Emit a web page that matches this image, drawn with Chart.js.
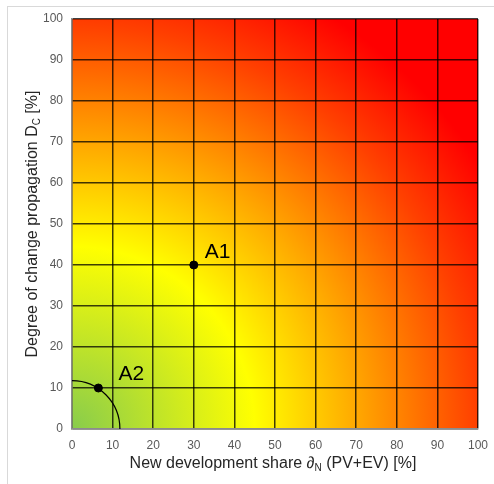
<!DOCTYPE html>
<html lang="en">
<head>
    <meta charset="UTF-8">
    <title>Change propagation</title>
    <script src="https://cdn.jsdelivr.net/npm/chart.js"></script>
    <style>
        html, body { margin: 0; padding: 0; background: #fff; }
        .frame {
            position: absolute;
            left: 7px;
            top: 6px;
            width: 487px;
            height: 478px;
            border-top: 1px solid #d9d9d9;
            border-left: 1px solid #d9d9d9;
        }
        .chart-box {
            position: absolute;
            left: 0;
            top: 0;
            width: 494px;
            height: 484px;
        }
    </style>
</head>
<body>
    <div class="frame"></div>
    <div class="chart-box">
        <canvas id="propChart"></canvas>
    </div>

    <script>
        // point labels and coordinates (x = new development share, y = degree of change propagation)
        const pointLabels = ['A1', 'A2'];
        const shareValues = [30, 6.5];
        const propagationValues = [40, 10];
        const xTicks = [0, 10, 20, 30, 40, 50, 60, 70, 80, 90, 100];
        const yTicks = [0, 10, 20, 30, 40, 50, 60, 70, 80, 90, 100];
        const arcRadius = 11.8; // quarter circle around the origin, in axis units

        const font = '"Liberation Sans", Arial, sans-serif';
        // label offsets from their point, in pixels
        const labelOffsets = [[11, -7], [20, -8]];

        // background: radial colour field from the origin
        const backgroundPlugin = {
            id: 'bgField',
            beforeDraw(chart) {
                const { ctx, chartArea, scales } = chart;
                const x0 = scales.x.getPixelForValue(0);
                const y0 = scales.y.getPixelForValue(0);
                const r = scales.x.getPixelForValue(120) - x0;
                const g = ctx.createRadialGradient(x0, y0, 0, x0, y0, r);
                g.addColorStop(0, '#88cc4c');
                g.addColorStop(0.375, '#ffff00');
                g.addColorStop(0.58, '#ffaa00');
                g.addColorStop(0.83, '#ff4000');
                g.addColorStop(1, '#ff0000');
                ctx.save();
                ctx.fillStyle = g;
                ctx.fillRect(chartArea.left, chartArea.top, chartArea.right - chartArea.left, chartArea.bottom - chartArea.top);
                ctx.restore();
            }
        };

        // arc, point labels and axis titles with subscripts
        const overlayPlugin = {
            id: 'overlay',
            beforeDatasetsDraw(chart) {
                const { ctx, chartArea, scales } = chart;
                const x0 = scales.x.getPixelForValue(0);
                const y0 = scales.y.getPixelForValue(0);
                const rx = scales.x.getPixelForValue(arcRadius) - x0;
                const ry = y0 - scales.y.getPixelForValue(arcRadius);
                ctx.save();
                ctx.beginPath();
                ctx.rect(chartArea.left, chartArea.top, chartArea.right - chartArea.left, chartArea.bottom - chartArea.top + 1);
                ctx.clip();
                ctx.beginPath();
                ctx.ellipse(x0, y0, rx, ry, 0, -Math.PI / 2, 0);
                ctx.strokeStyle = '#000';
                ctx.lineWidth = 1.2;
                ctx.stroke();
                ctx.restore();
            },
            afterDatasetsDraw(chart) {
                const { ctx } = chart;
                const meta = chart.getDatasetMeta(0);
                ctx.save();
                ctx.fillStyle = '#000';
                ctx.font = '21px ' + font;
                ctx.textBaseline = 'alphabetic';
                meta.data.forEach((pt, i) => {
                    ctx.fillText(pointLabels[i], pt.x + labelOffsets[i][0], pt.y + labelOffsets[i][1]);
                });
                ctx.restore();
            },
            afterDraw(chart) {
                const { ctx, chartArea } = chart;
                ctx.save();
                ctx.fillStyle = '#262626';
                ctx.textBaseline = 'alphabetic';

                // x title
                const xParts = [
                    ['New development share ', '16px ' + font, 0],
                    ['\u2202', 'italic 16px ' + font, 0],
                    ['N', '10px ' + font, 3],
                    [' (PV+EV) [%]', '16px ' + font, 0]
                ];
                drawParts(ctx, xParts, (chartArea.left + chartArea.right) / 2 - 2, 468);

                // y title, rotated
                ctx.translate(37, (chartArea.top + chartArea.bottom) / 2);
                ctx.rotate(-Math.PI / 2);
                const yParts = [
                    ['Degree of change propagation D', '16px ' + font, 0],
                    ['C', '10px ' + font, 3],
                    [' [%]', '16px ' + font, 0]
                ];
                drawParts(ctx, yParts, 0, 0);
                ctx.restore();
            }
        };

        function drawParts(ctx, parts, cx, baseline) {
            let total = 0;
            parts.forEach(p => { ctx.font = p[1]; total += ctx.measureText(p[0]).width; });
            let x = cx - total / 2;
            ctx.textAlign = 'left';
            parts.forEach(p => {
                ctx.font = p[1];
                ctx.fillText(p[0], x, baseline + p[2]);
                x += ctx.measureText(p[0]).width;
            });
        }

        const points = shareValues.map((v, i) => ({ x: v, y: propagationValues[i] }));

        new Chart(document.getElementById('propChart').getContext('2d'), {
            type: 'scatter',
            data: {
                datasets: [{
                    label: 'Points',
                    data: points,
                    backgroundColor: '#000',
                    borderColor: '#000',
                    pointRadius: 4,
                    pointHoverRadius: 4
                }]
            },
            options: {
                responsive: true,
                maintainAspectRatio: false,
                animation: false,
                layout: { padding: { left: 0, top: 19, right: 16, bottom: 0 } },
                plugins: {
                    legend: { display: false },
                    tooltip: { enabled: false }
                },
                scales: {
                    x: {
                        type: 'linear',
                        min: 0,
                        max: 100,
                        afterBuildTicks: s => { s.ticks = xTicks.map(v => ({ value: v })); },
                        afterFit: s => { s.height = 55; s.paddingRight = 0; s.paddingLeft = 0; },
                        grid: { color: 'rgba(0,0,0,0.75)', lineWidth: 1.5, drawTicks: false },
                        border: { display: true, color: '#8c8c8c', width: 1.5 },
                        ticks: { padding: 9, color: '#595959', font: { family: font, size: 12 } }
                    },
                    y: {
                        type: 'linear',
                        min: 0,
                        max: 100,
                        afterBuildTicks: s => { s.ticks = yTicks.map(v => ({ value: v })); },
                        afterFit: s => { s.width = 72; s.paddingTop = 0; s.paddingBottom = 0; },
                        grid: { color: 'rgba(0,0,0,0.75)', lineWidth: 1.5, drawTicks: false },
                        border: { display: true, color: '#8c8c8c', width: 1.5 },
                        ticks: { padding: 9, color: '#595959', font: { family: font, size: 12 } }
                    }
                }
            },
            plugins: [backgroundPlugin, overlayPlugin]
        });
    </script>
</body>
</html>
